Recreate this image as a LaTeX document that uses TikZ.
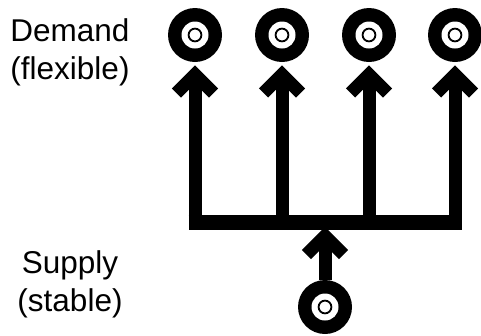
\documentclass[tikz,border=0pt]{standalone}
\usepackage{fontspec}
\setmainfont{Liberation Sans}
\usetikzlibrary{calc}
\tikzset{
  x=1pt, y=-1pt,
  outlet/.style={circle, fill=black, minimum size=54pt, inner sep=0pt, outer sep=0pt},
  trunk/.style={line width=13pt, line cap=butt, line join=miter},
  busbar/.style={line width=15pt, line cap=butt, line join=miter},
  label/.style={align=center, font=\fontsize{31.5}{38}\selectfont, inner sep=0pt},
  pics/chevron/.style={code={
    \draw[trunk, miter limit=10] (-18.5,18.5) -- (0,0) -- (18.5,18.5);
  }},
}
\newcommand{\outletface}[1]{%
  \fill[white] (#1.center) circle (13.5);
  \draw[line width=1.8pt] (#1.center) circle (6.4);
}
\begin{document}
\begin{tikzpicture}
\useasboundingbox (0,0) rectangle (481,335);

% labels
\node[label] (dem) at (70,52) {Demand\\(flexible)};
\node[label] (sup) at (70,284) {Supply\\(stable)};

% outlets
\node[outlet] (d1) at (195,35) {};
\node[outlet] (d2) at (282,35) {};
\node[outlet] (d3) at (369,35) {};
\node[outlet] (d4) at (455,35) {};
\node[outlet] (s)  at (325,307) {};
\foreach \n in {d1,d2,d3,d4,s} {\outletface{\n}}

% bus level and arrow vertices
\coordinate (bus) at (0,222);
\foreach \n in {d1,d2,d3,d4} {
  \coordinate (v\n) at ($(\n.south)+(0,12.5)$);
}
\coordinate (vs) at ($(s.north)+(0,-44)$);

% bus bar with the two outer risers
\draw[trunk] (vd1) -- (d1 |- bus);
\draw[trunk] (vd4) -- (d4 |- bus);
\draw[busbar] ($(d1 |- bus)+(-6.5,0)$) -- ($(d4 |- bus)+(6.5,0)$);
% inner risers
\draw[trunk] (vd2) -- (d2 |- bus);
\draw[trunk] (vd3) -- (d3 |- bus);
% supply feed
\draw[trunk] (s.north) -- (vs);

% arrow heads
\foreach \n in {vd1,vd2,vd3,vd4,vs} {\pic at (\n) {chevron};}
\end{tikzpicture}
\end{document}
